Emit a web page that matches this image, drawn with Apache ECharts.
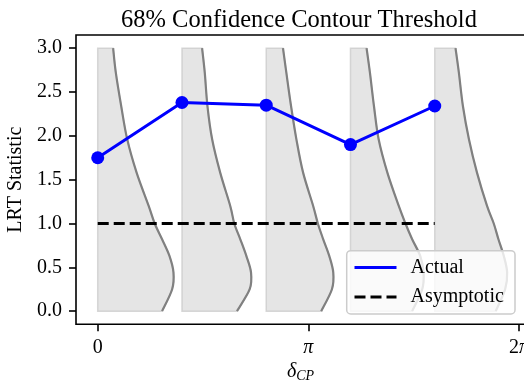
<!DOCTYPE html>
<html>
<head>
<meta charset="utf-8">
<script src="https://cdn.jsdelivr.net/npm/echarts@6/dist/echarts.min.js"></script>
<style>
  html, body { margin: 0; padding: 0; background: #ffffff; }
  #chart { width: 524px; height: 382px; }
</style>
</head>
<body>
<div id="chart"></div>
<script>
const PI = Math.PI;

// δCP values where the threshold was evaluated (radians)
const deltaCP = [0, 2 * PI / 5, 4 * PI / 5, 6 * PI / 5, 8 * PI / 5];
// 68% LRT threshold from pseudo-experiments
const actualLRT = [1.75, 2.38, 2.35, 1.90, 2.34];
// asymptotic (Wilks) threshold
const asymptoticLRT = [1.0, 1.0, 1.0, 1.0, 1.0];

// LRT levels at which each sampled distribution is tabulated
const lrtLevels = [0, 0.25, 0.44, 0.63, 0.82, 1.0, 1.2, 1.58, 1.96, 2.34, 2.72, 3.0];
// scaled density widths (in δCP units) for each δCP point
const density0 = [0.96, 1.11, 1.13, 1.07, 0.96, 0.85, 0.76, 0.58, 0.44, 0.35, 0.27, 0.23];
const density1 = [0.82, 1.01, 1.03, 0.96, 0.87, 0.78, 0.72, 0.57, 0.45, 0.38, 0.34, 0.30];
const density2 = [0.82, 0.98, 1.00, 0.94, 0.85, 0.77, 0.70, 0.55, 0.45, 0.37, 0.30, 0.25];
const density3 = [0.92, 1.07, 1.09, 1.04, 0.92, 0.82, 0.72, 0.55, 0.42, 0.35, 0.29, 0.24];
const density4 = [0.91, 1.05, 1.08, 1.03, 0.95, 0.88, 0.78, 0.63, 0.51, 0.42, 0.36, 0.31];
const densities = [density0, density1, density2, density3, density4];

// axis ticks
const xTicks = [0, PI, 2 * PI];
const xTickLabels = ['0', '{i|π}', '2{i|π}'];
const yTicks = [0, 0.5, 1.0, 1.5, 2.0, 2.5, 3.0];
const yTickLabels = ['0.0', '0.5', '1.0', '1.5', '2.0', '2.5', '3.0'];

const FONT = 'Liberation Serif';

function tickLabel(ticks, labels) {
  return function (v) {
    for (let i = 0; i < ticks.length; i++) {
      if (Math.abs(ticks[i] - v) < 1e-6) return labels[i];
    }
    return '';
  };
}

// Catmull-Rom spline through pixel points, as cubic bezier path segments
function splineSegments(p) {
  let d = '';
  for (let k = 0; k < p.length - 1; k++) {
    const p0 = p[k - 1] || p[k], p1 = p[k], p2 = p[k + 1], p3 = p[k + 2] || p[k + 1];
    const c1x = p1[0] + (p2[0] - p0[0]) / 6, c1y = p1[1] + (p2[1] - p0[1]) / 6;
    const c2x = p2[0] - (p3[0] - p1[0]) / 6, c2y = p2[1] - (p3[1] - p1[1]) / 6;
    d += ' C' + c1x + ' ' + c1y + ' ' + c2x + ' ' + c2y + ' ' + p2[0] + ' ' + p2[1];
  }
  return d;
}

function renderDistribution(params, api) {
  const x0 = api.value(0);
  const idx = api.value(1);
  const widths = densities[idx];
  const pts = lrtLevels.map((y, k) => api.coord([x0 + widths[k], y]));
  const lb = api.coord([x0, lrtLevels[0]]);
  const lt = api.coord([x0, lrtLevels[lrtLevels.length - 1]]);
  const curve = splineSegments(pts);
  const fillPath = 'M' + lb[0] + ' ' + lb[1] + ' L' + pts[0][0] + ' ' + pts[0][1] +
    curve + ' L' + lt[0] + ' ' + lt[1] + ' Z';
  const linePath = 'M' + pts[0][0] + ' ' + pts[0][1] + curve;
  return {
    type: 'group',
    children: [
      {
        type: 'path',
        shape: { pathData: fillPath },
        style: { fill: 'rgba(211,211,211,0.6)', stroke: 'rgba(200,200,200,0.7)', lineWidth: 1.5 }
      },
      {
        type: 'path',
        shape: { pathData: linePath },
        style: { fill: 'none', stroke: '#808080', lineWidth: 2.2 }
      }
    ]
  };
}

const chart = echarts.init(document.getElementById('chart'), null, { renderer: 'canvas' });

const option = {
  animation: false,
  backgroundColor: '#ffffff',
  title: {
    text: '68% Confidence Contour Threshold',
    left: 294,
    textAlign: 'center',
    top: 3,
    textStyle: { fontFamily: FONT, fontSize: 24.5, fontWeight: 'normal', color: '#000000' }
  },
  grid: {
    left: 76, top: 35, right: -1, bottom: 57.7,
    outerBoundsMode: 'none',
    containLabel: false,
    show: true, borderColor: '#000000', borderWidth: 1.6, backgroundColor: 'transparent'
  },
  xAxis: {
    type: 'value',
    min: -0.1031 * PI,
    max: 2.0285 * PI,
    axisLine: { show: false, onZero: false },
    splitLine: { show: false },
    axisTick: { show: true, customValues: xTicks, length: 7, lineStyle: { color: '#000000', width: 1.6 } },
    axisLabel: {
      customValues: xTicks,
      formatter: tickLabel(xTicks, xTickLabels),
      fontFamily: FONT, fontSize: 20, color: '#000000', margin: 13,
      rich: { i: { fontFamily: FONT, fontSize: 20, fontStyle: 'italic', color: '#000000' } }
    },
    name: '{d|δ}{s|CP}',
    nameLocation: 'middle',
    nameGap: 36,
    nameTextStyle: {
      rich: {
        d: { fontFamily: FONT, fontSize: 20, fontStyle: 'italic', color: '#000000' },
        s: { fontFamily: FONT, fontSize: 14, fontStyle: 'italic', color: '#000000', padding: [9, 0, 0, 0] }
      }
    }
  },
  yAxis: {
    type: 'value',
    min: -0.15,
    max: 3.15,
    axisLine: { show: false, onZero: false },
    splitLine: { show: false },
    axisTick: { show: true, customValues: yTicks, length: 7, lineStyle: { color: '#000000', width: 1.6 } },
    axisLabel: {
      customValues: yTicks,
      formatter: tickLabel(yTicks, yTickLabels),
      fontFamily: FONT, fontSize: 20, color: '#000000', margin: 14
    },
    name: 'LRT Statistic',
    nameLocation: 'middle',
    nameGap: 50,
    nameTextStyle: { fontFamily: FONT, fontSize: 20, color: '#000000' }
  },
  legend: {
    data: ['Actual', 'Asymptotic'],
    orient: 'vertical',
    left: 353,
    top: 257.5,
    padding: 0,
    itemWidth: 42,
    itemHeight: 14,
    itemGap: 9.5,
    selectedMode: false,
    z: 20,
    itemStyle: { opacity: 0 },
    lineStyle: { width: 3 },
    textStyle: { fontFamily: FONT, fontSize: 20, color: '#000000', lineHeight: 14, padding: [0, 0, 0, 9] }
  },
  graphic: [
    {
      type: 'rect',
      z: 10,
      shape: { x: 346.7, y: 250.7, width: 168.3, height: 63.3, r: 4 },
      style: { fill: 'rgba(255,255,255,0.8)', stroke: '#cccccc', lineWidth: 1.5 }
    }
  ],
  series: [
    {
      type: 'custom',
      name: 'distributions',
      z: 1,
      renderItem: renderDistribution,
      data: deltaCP.map((x, i) => [x, i]),
      encode: { x: 0 },
      silent: true
    },
    {
      type: 'line',
      name: 'Asymptotic',
      z: 3,
      data: deltaCP.map((x, i) => [x, asymptoticLRT[i]]),
      symbol: 'none',
      lineStyle: { color: '#000000', width: 3, type: [11, 5] },
      itemStyle: { color: '#000000' },
      silent: true
    },
    {
      type: 'line',
      name: 'Actual',
      z: 4,
      data: deltaCP.map((x, i) => [x, actualLRT[i]]),
      symbol: 'none',
      lineStyle: { color: '#0000ff', width: 3 },
      itemStyle: { color: '#0000ff' },
      silent: true
    },
    {
      type: 'scatter',
      name: 'Actual points',
      z: 5,
      data: deltaCP.map((x, i) => [x, actualLRT[i]]),
      symbol: 'circle',
      symbolSize: 13,
      itemStyle: { color: '#0000ff', opacity: 1 },
      silent: true
    }
  ]
};

chart.setOption(option);
</script>
</body>
</html>
